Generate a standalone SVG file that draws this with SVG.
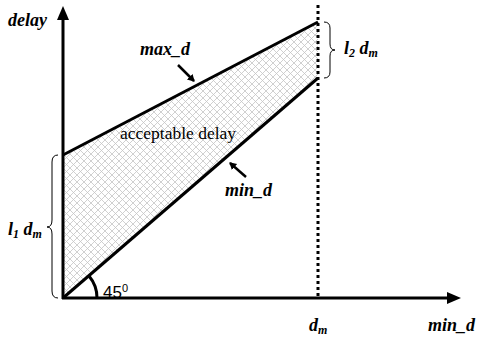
<svg xmlns="http://www.w3.org/2000/svg" width="481" height="339" viewBox="0 0 481 339">
<style>
.lbl{font-family:"Liberation Serif",serif;font-weight:bold;font-style:italic;font-size:18px;fill:#000}
.sub{font-size:12px}
.axis{stroke:#000;stroke-width:3;fill:none}
.edge{stroke:#000;stroke-width:3;fill:none}
.thin{stroke:#000;stroke-width:1;fill:none}
</style>
<defs>
<pattern id="hatch" width="7" height="7" patternUnits="userSpaceOnUse">
<path d="M0,0 L7,7 M7,0 L0,7" stroke="#c4c4c4" stroke-width="0.8"/>
</pattern>
<marker id="ah" markerWidth="10" markerHeight="10" refX="6" refY="5" orient="auto" markerUnits="userSpaceOnUse">
<path d="M0,1 L7,5 L0,9 Z" fill="#000"/>
</marker>
</defs>
<g id="region">
<polygon points="63,155 318,22 318,78 63,298" fill="url(#hatch)"/>
</g>
<g id="axes">
<line x1="63" y1="299" x2="63" y2="20" class="axis"/>
<polygon points="63,6 57,20 69,20" fill="#000"/>
<line x1="62" y1="298" x2="448" y2="298" class="axis"/>
<polygon points="461,298 447,292 447,304" fill="#000"/>
<line x1="318" y1="5" x2="318" y2="298" stroke="#000" stroke-width="3" stroke-dasharray="3,3"/>
</g>
<g id="connectors">
<line x1="63" y1="155" x2="318" y2="22" class="edge"/>
<line x1="63" y1="298" x2="318" y2="78" class="edge"/>
<line x1="178" y1="65" x2="194" y2="81" stroke="#000" stroke-width="2.5" marker-end="url(#ah)"/>
<line x1="246" y1="177" x2="230" y2="163" stroke="#000" stroke-width="2.5" marker-end="url(#ah)"/>
<path d="M97,298 A34,34 0 0 0 89,276" class="edge" stroke-width="2"/>
<path d="M324,22 Q330,22 330,28 L330,44 Q330,50 335,50 Q330,50 330,56 L330,72 Q330,78 324,78" class="thin"/>
<path d="M58,155 Q52,155 52,162 L52,220 Q52,227 47,227 Q52,227 52,234 L52,291 Q52,298 58,298" class="thin"/>
</g>
<g id="labels">
<text x="8" y="26" class="lbl">delay</text>
<text x="140" y="55" class="lbl">max_d</text>
<text x="120" y="139" font-family="Liberation Serif,serif" font-size="17.5">acceptable delay</text>
<text x="225" y="196" class="lbl">min_d</text>
<text x="344" y="54" class="lbl">l<tspan class="sub" dy="3">2</tspan><tspan dy="-3"> d</tspan><tspan class="sub" dy="3">m</tspan></text>
<text x="8" y="235" class="lbl">l<tspan class="sub" dy="3">1</tspan><tspan dy="-3"> d</tspan><tspan class="sub" dy="3">m</tspan></text>
<text x="103" y="298" font-family="Liberation Sans,sans-serif" font-size="17">45<tspan font-size="11" dy="-6">0</tspan></text>
<text x="309" y="331" class="lbl">d<tspan class="sub" dy="3">m</tspan></text>
<text x="428" y="331" class="lbl">min_d</text>
</g>
</svg>
